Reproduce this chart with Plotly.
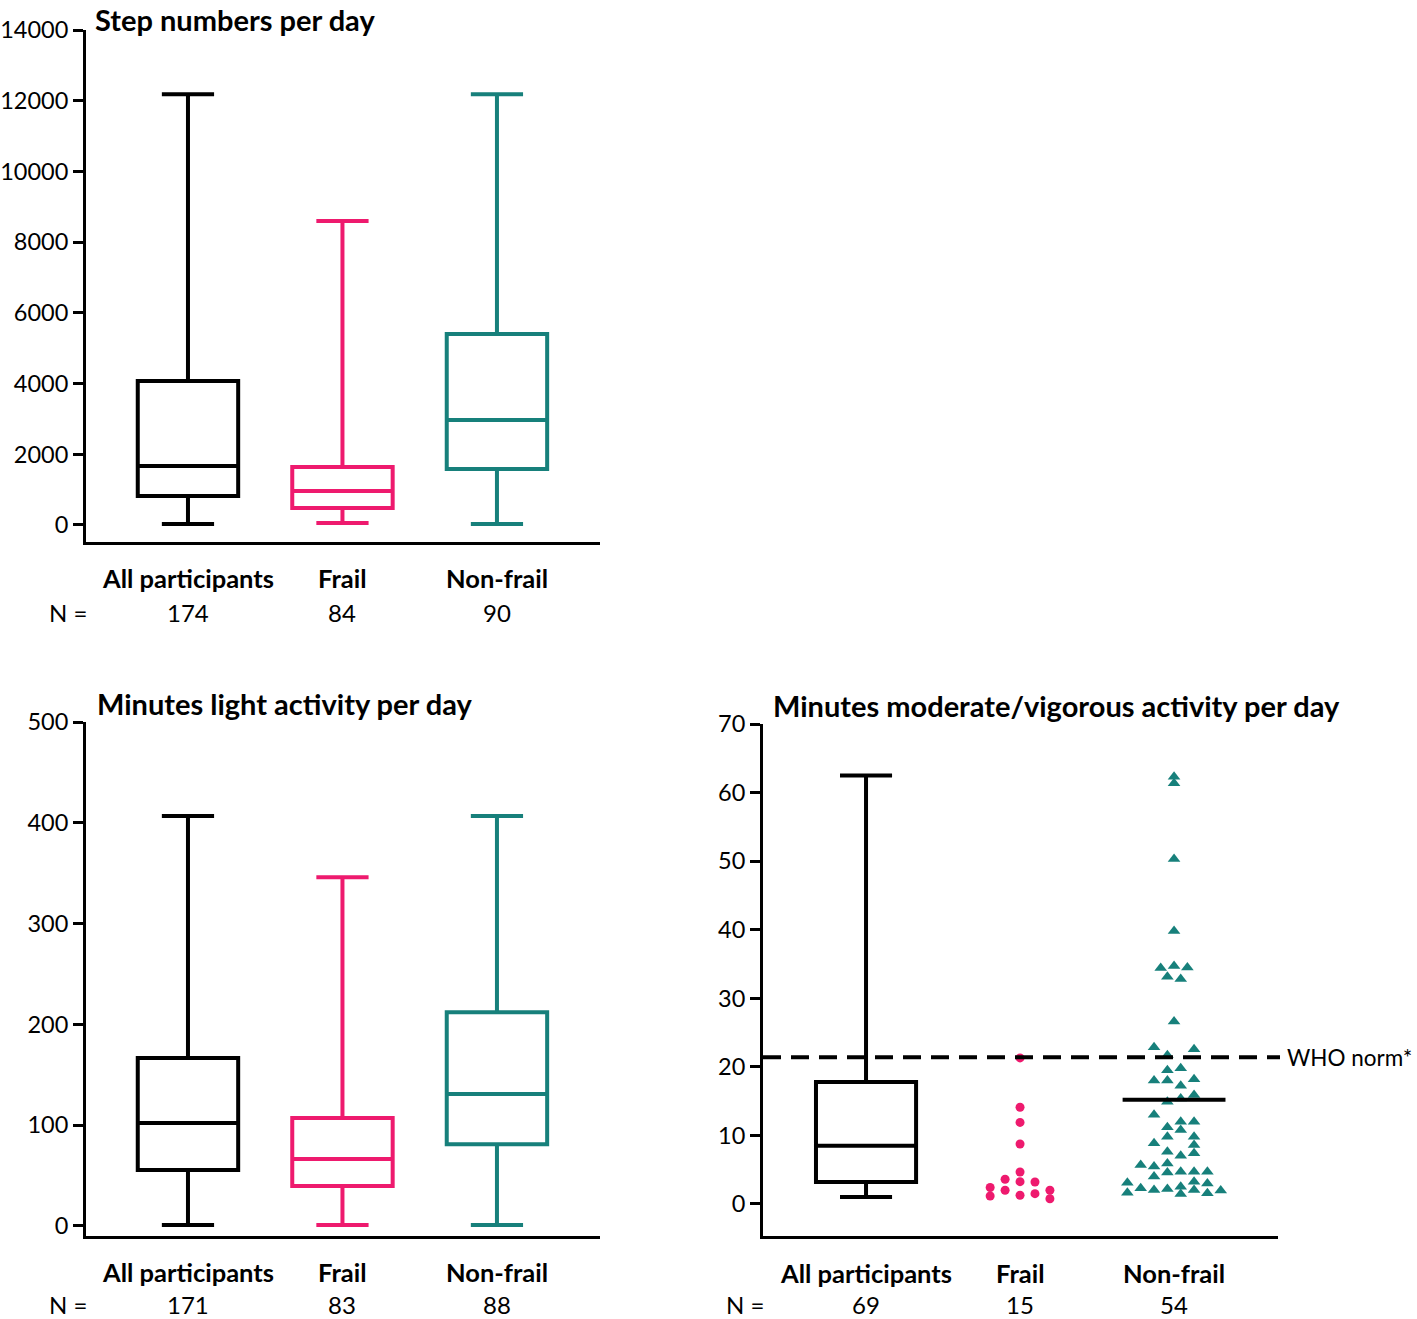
import plotly.graph_objects as go

W, H = 1417, 1319

# ---------------- data ----------------
categories = ["All participants", "Frail", "Non-frail"]

# Panel 1: step numbers per day
steps_n = [174, 84, 90]
steps_low = [30, 57, 30]
steps_q1 = [820, 481, 1584]
steps_med = [1669, 962, 2970]
steps_q3 = [4073, 1640, 5402]
steps_high = [12180, 8598, 12180]

# Panel 2: minutes light activity per day
light_n = [171, 83, 88]
light_low = [1, 1, 1]
light_q1 = [55.5, 39.7, 81]
light_med = [102, 66.5, 131]
light_q3 = [166.7, 107, 212]
light_high = [406.7, 346, 406.7]

# Panel 3: minutes moderate/vigorous activity per day
mv_n = [69, 15, 54]
mv_all_low = 1.0
mv_all_q1 = 3.2
mv_all_med = 8.5
mv_all_q3 = 17.8
mv_all_high = 62.5

frail_vals = [21.3, 14.1, 11.9, 8.75, 4.67, 3.6, 3.25, 3.2, 2.4, 2.0, 1.5, 2.0, 1.17, 1.27, 0.77]
frail_cols = [0, 0, 0, 0, 0, -1, 0, 1, -2, -1, 1, 2, -2, 0, 2]

nonfrail_vals = [62.3, 61.35, 50.3, 39.8, 34.4, 34.7, 34.5, 33.15, 32.8,
                 26.6, 22.85, 22.55, 21.7, 19.5, 19.8, 18.0, 18.0, 17.25, 18.2,
                 15.9, 14.9, 15.4, 13.0, 11.2, 12.0, 10.8, 12.0, 9.8, 8.85,
                 9.8, 8.6, 7.4, 7.6, 7.05, 5.7, 5.45, 4.0, 5.9, 4.6, 4.7, 4.7,
                 3.25, 4.7, 3.0, 3.1, 1.65, 2.3, 2.05, 2.2, 2.5, 1.45, 2.05, 1.55, 1.95]
nonfrail_cols = [0, 0, 0, 0, -1, 0, 1, -0.5, 0.5,
                 0, -1.5, 1.5, -0.5, -0.5, 0.5, -1.5, -0.5, 0.5, 1.5,
                 1.5, -0.5, 0.5, -1.5, -0.5, 0.5, 0.5, 1.5, -0.5, -1.5,
                 1.5, 1.5, 1.5, -0.5, 0.5, -2.5, -1.5, -1.5, -0.5, -0.5, 0.5, 1.5,
                 1.5, 2.5, 2.5, -3.5, -3.5, -2.5, -1.5, -0.5, 0.5, 0.5, 1.5, 2.5, 3.5]
nonfrail_median = 15.2
who_norm = 21.4

steps_ticks = [0, 2000, 4000, 6000, 8000, 10000, 12000, 14000]
light_ticks = [0, 100, 200, 300, 400, 500]
mv_ticks = [0, 10, 20, 30, 40, 50, 60, 70]

# ---------------- style ----------------
BLACK = "#000000"
PINK = "#EE1A6E"
TEAL = "#17807B"
colors = [BLACK, PINK, TEAL]
FONT = "Lato"
LW = 4
BOXW = 0.65
WHISK = 0.52
FRAIL_STEP = 0.097
NF_STEP = 0.0866
MED_HALF = 0.334


def px_x(p):
    return p / W


def px_y(p):
    return 1 - p / H


fig = go.Figure()

pos = [0, 1, 2]


def add_boxes(axis_suffix, lows, q1s, meds, q3s, highs):
    for i in range(3):
        fig.add_trace(go.Box(
            x=[pos[i]], q1=[q1s[i]], median=[meds[i]], q3=[q3s[i]],
            lowerfence=[lows[i]], upperfence=[highs[i]],
            width=BOXW, whiskerwidth=WHISK,
            line=dict(color=colors[i], width=LW),
            fillcolor="rgba(0,0,0,0)", boxpoints=False,
            xaxis="x" + axis_suffix, yaxis="y" + axis_suffix,
            showlegend=False, hoverinfo="skip"))


add_boxes("", steps_low, steps_q1, steps_med, steps_q3, steps_high)
add_boxes("2", light_low, light_q1, light_med, light_q3, light_high)

# Panel 3 box (all participants)
fig.add_trace(go.Box(
    x=[0], q1=[mv_all_q1], median=[mv_all_med], q3=[mv_all_q3],
    lowerfence=[mv_all_low], upperfence=[mv_all_high],
    width=BOXW, whiskerwidth=WHISK,
    line=dict(color=BLACK, width=LW), fillcolor="rgba(0,0,0,0)",
    boxpoints=False, xaxis="x3", yaxis="y3", showlegend=False, hoverinfo="skip"))

# Frail points
fig.add_trace(go.Scatter(
    x=[1 + c * FRAIL_STEP for c in frail_cols], y=frail_vals, mode="markers",
    marker=dict(symbol="circle", size=9, color=PINK),
    xaxis="x3", yaxis="y3", showlegend=False, hoverinfo="skip"))

# Non-frail points
fig.add_trace(go.Scatter(
    x=[2 + c * NF_STEP for c in nonfrail_cols], y=nonfrail_vals, mode="markers",
    marker=dict(symbol="triangle-up", size=11, color=TEAL),
    xaxis="x3", yaxis="y3", showlegend=False, hoverinfo="skip"))

# Non-frail median line
fig.add_trace(go.Scatter(
    x=[2 - MED_HALF, 2 + MED_HALF], y=[nonfrail_median, nonfrail_median],
    mode="lines", line=dict(color=BLACK, width=LW),
    xaxis="x3", yaxis="y3", showlegend=False, hoverinfo="skip"))

# WHO norm dashed line
fig.add_shape(type="line", xref="paper", yref="y3",
              x0=px_x(763), x1=px_x(1280), y0=who_norm, y1=who_norm,
              line=dict(color=BLACK, width=4, dash="18px,10px"))
fig.add_annotation(xref="paper", yref="y3", x=px_x(1285), y=who_norm,
                   text="WHO norm*", showarrow=False, xanchor="left", yanchor="middle",
                   font=dict(family=FONT, size=22.5, color=BLACK))

axis_common = dict(showgrid=False, zeroline=False, showline=True, linecolor=BLACK,
                   linewidth=3, mirror=False)
yaxis_common = dict(axis_common, ticks="outside", ticklen=10, tickwidth=3, tickcolor=BLACK,
                    ticklabelstandoff=0,
                    tickfont=dict(family=FONT, size=23.5, color=BLACK))
xaxis_common = dict(axis_common, showticklabels=False, ticks="")

fig.update_layout(
    width=W, height=H, margin=dict(l=0, r=0, t=0, b=0, autoexpand=False),
    paper_bgcolor="white", plot_bgcolor="white",
    xaxis=dict(xaxis_common, domain=[px_x(86), px_x(600)], range=[-0.66, 2.667], anchor="y"),
    yaxis=dict(yaxis_common, domain=[px_y(542), px_y(30)], range=[-481, 14000],
               tickvals=steps_ticks, ticktext=[str(v) for v in steps_ticks], anchor="x"),
    xaxis2=dict(xaxis_common, domain=[px_x(86), px_x(600)], range=[-0.66, 2.667], anchor="y2"),
    yaxis2=dict(yaxis_common, domain=[px_y(1236), px_y(722)], range=[-10, 500],
                tickvals=light_ticks, ticktext=[str(v) for v in light_ticks], anchor="x2"),
    xaxis3=dict(xaxis_common, domain=[px_x(763), px_x(1278)], range=[-0.669, 2.675], anchor="y3"),
    yaxis3=dict(yaxis_common, domain=[px_y(1236), px_y(724)], range=[-4.67, 70],
                tickvals=mv_ticks, ticktext=[str(v) for v in mv_ticks], anchor="x3"),
)

# Titles (x px, y px, anchor)
titles = [("Step numbers per day", 93, 0, "top"),
          ("Minutes light activity per day", 95, 703, "middle"),
          ("Minutes moderate/vigorous activity per day", 771, 705, "middle")]
for t, xp, yp, ya in titles:
    fig.add_annotation(xref="paper", yref="paper", x=px_x(xp), y=px_y(yp), text="<b>" + t + "</b>",
                       showarrow=False, xanchor="left", yanchor=ya,
                       font=dict(family=FONT, size=29, color=BLACK))

# Category labels and N rows
panels = [("x", steps_n, 578, 613, 68),
          ("x2", light_n, 1272, 1304, 68),
          ("x3", mv_n, 1273, 1304, 745)]
for xr, ns, ycat, yn, nx in panels:
    for i, c in enumerate(categories):
        fig.add_annotation(xref=xr, yref="paper", x=pos[i], y=px_y(ycat), text="<b>" + c + "</b>",
                           showarrow=False, xanchor="center", yanchor="middle",
                           font=dict(family=FONT, size=25.5, color=BLACK))
        fig.add_annotation(xref=xr, yref="paper", x=pos[i], y=px_y(yn), text=str(ns[i]),
                           showarrow=False, xanchor="center", yanchor="middle",
                           font=dict(family=FONT, size=24, color=BLACK))
    fig.add_annotation(xref="paper", yref="paper", x=px_x(nx), y=px_y(yn), text="N =",
                       showarrow=False, xanchor="center", yanchor="middle",
                       font=dict(family=FONT, size=24, color=BLACK))

fig.write_html("out.html", config={"displayModeBar": False},
               post_script="document.body.style.margin='0';document.body.style.overflow='hidden';")
